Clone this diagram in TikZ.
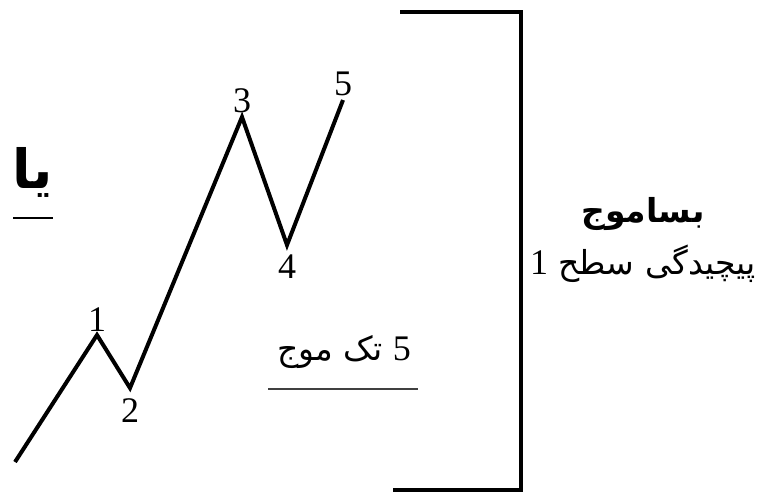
\documentclass[tikz,border=0pt]{standalone}
\usepackage{fontspec}
\setmainfont{Liberation Serif}
\newfontfamily\arabicfont[Script=Arabic]{DejaVu Sans}
\TeXXeTstate=1
\usetikzlibrary{positioning}

\begin{document}
\begin{tikzpicture}[x=1pt, y=-1pt,
    wave/.style={line width=4pt, line join=miter, black},
    num/.style={font=\fontsize{36}{38}\selectfont, inner sep=0pt},
    fa/.style={font=\arabicfont\fontsize{33}{36}\selectfont, inner sep=0pt},
    fabold/.style={font=\arabicfont\bfseries\fontsize{33}{36}\selectfont, inner sep=0pt},
    frame/.style={line width=4.5pt},
    uline/.style={line width=1.5pt, black!75},
]
\useasboundingbox (0,0) rectangle (767,493);

% the five-wave zigzag
\coordinate (w0) at (15,462);
\coordinate (w1) at (97,335);
\coordinate (w2) at (130,388);
\coordinate (w3) at (242,117);
\coordinate (w4) at (287,245);
\coordinate (w5) at (343,100);
\draw[wave] (w0) -- (w1) -- (w2) -- (w3) -- (w4) -- (w5);

\node[num, above=3pt of w1] (n1) {1};
\node[num, below=10pt of w2] (n2) {2};
\node[num, above=4pt of w3] (n3) {3};
\node[num, below=10pt of w4] (n4) {4};
\node[num, above=4pt of w5] (n5) {5};

% bracket on the right
\draw[frame] (400,12) -- (521,12) -- (521,490) -- (393,490);

\node[fabold, font=\arabicfont\bfseries\fontsize{54}{58}\selectfont] (ya) at (33,172) {\beginR یا\endR};
\draw[uline, line width=2pt, black] (13,218) -- (53,218);

\node[fabold] (basamowj) at (643,214) {\beginR بساموج\endR};
\node[fa] (level) at (643,264) {\beginR پیچیدگی سطح \rmfamily\fontsize{36}{38}\selectfont 1\endR};

\node[fa] (single) at (344,352) {\beginR{\rmfamily\fontsize{36}{38}\selectfont 5} تک موج\endR};
\draw[uline] (268,389) -- (418,389);
\end{tikzpicture}
\end{document}
